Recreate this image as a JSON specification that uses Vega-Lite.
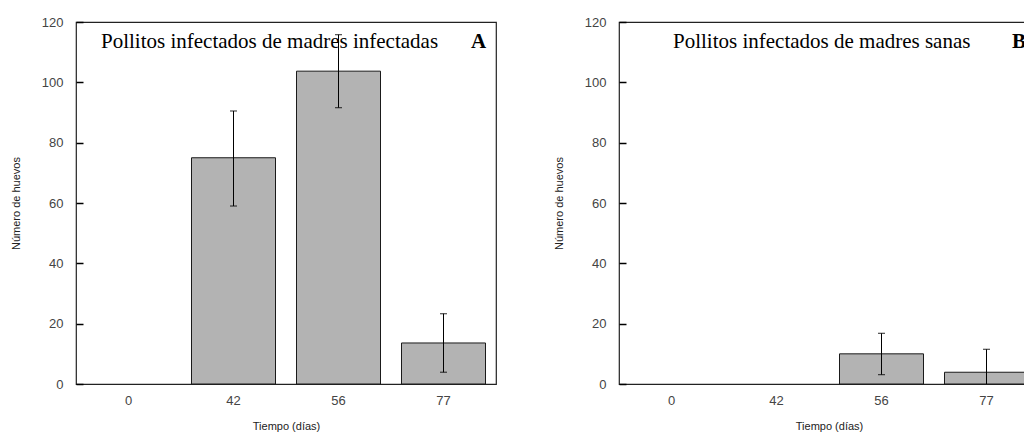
{
  "$schema": "https://vega.github.io/schema/vega-lite/v6.json",
  "padding": {"left": 9, "top": 15, "right": 0, "bottom": 0},
  "background": "white",
  "datasets": {
    "bars": [
      {"panel": "A", "day": 0, "value": 0, "lo": null, "hi": null},
      {"panel": "A", "day": 42, "value": 75, "lo": 59, "hi": 90.5},
      {"panel": "A", "day": 56, "value": 103.7, "lo": 91.6, "hi": 115.8},
      {"panel": "A", "day": 77, "value": 13.6, "lo": 3.9, "hi": 23.3},
      {"panel": "B", "day": 0, "value": 0, "lo": null, "hi": null},
      {"panel": "B", "day": 42, "value": 0, "lo": null, "hi": null},
      {"panel": "B", "day": 56, "value": 10, "lo": 3.1, "hi": 16.8},
      {"panel": "B", "day": 77, "value": 3.9, "lo": -3.7, "hi": 11.5}
    ],
    "notes": [
      {"panel": "A", "title": "Pollitos infectados de madres infectadas", "letter": "A"},
      {"panel": "B", "title": "Pollitos infectados de madres sanas", "letter": "B"}
    ]
  },
  "spacing": 55,
  "hconcat": [
    {
      "width": 420,
      "height": 362,
      "layer": [
        {
          "data": {"name": "bars"},
          "transform": [{"filter": "datum.panel === 'A' && datum.value > 0"}],
          "mark": {"type": "bar", "fill": "#b3b3b3", "stroke": "#1a1a1a", "strokeWidth": 1},
          "encoding": {
            "x": {"field": "day", "type": "ordinal", "scale": {"domain": [0, 42, 56, 77], "paddingInner": 0.2, "paddingOuter": 0.1}, "title": "Tiempo (días)"},
            "y": {"field": "value", "type": "quantitative", "scale": {"domain": [0, 120], "nice": false}, "title": "Número de huevos", "axis": {"values": [0, 20, 40, 60, 80, 100, 120], "ticks": true, "tickSize": 7, "tickColor": "#000", "tickWidth": 1.5, "offset": -7, "zindex": 1}}
          }
        },
        {
          "data": {"name": "bars"},
          "transform": [{"filter": "datum.panel === 'A' && datum.lo !== null"}],
          "mark": {"type": "rule", "color": "#000", "strokeWidth": 1, "clip": true},
          "encoding": {
            "x": {"field": "day", "type": "ordinal"},
            "y": {"field": "lo", "type": "quantitative"},
            "y2": {"field": "hi"}
          }
        },
        {
          "data": {"name": "bars"},
          "transform": [{"filter": "datum.panel === 'A' && datum.lo !== null"}],
          "mark": {"type": "tick", "color": "#000", "size": 7, "thickness": 1.2, "clip": true},
          "encoding": {
            "x": {"field": "day", "type": "ordinal"},
            "y": {"field": "lo", "type": "quantitative"}
          }
        },
        {
          "data": {"name": "bars"},
          "transform": [{"filter": "datum.panel === 'A' && datum.lo !== null"}],
          "mark": {"type": "tick", "color": "#000", "size": 7, "thickness": 1.2, "clip": true},
          "encoding": {
            "x": {"field": "day", "type": "ordinal"},
            "y": {"field": "hi", "type": "quantitative"}
          }
        },
        {
          "data": {"name": "notes"},
          "transform": [{"filter": "datum.panel === 'A'"}],
          "mark": {"type": "text", "font": "Liberation Serif", "fontSize": 21, "align": "left", "baseline": "alphabetic", "dx": -27.5, "color": "#000"},
          "encoding": {
            "x": {"datum": 0, "type": "ordinal"},
            "y": {"datum": 111.5, "type": "quantitative"},
            "text": {"field": "title"}
          }
        },
        {
          "data": {"name": "notes"},
          "transform": [{"filter": "datum.panel === 'A'"}],
          "mark": {"type": "text", "font": "Liberation Serif", "fontSize": 21, "fontWeight": "bold", "align": "left", "baseline": "alphabetic", "dx": 27.5, "color": "#000"},
          "encoding": {
            "x": {"datum": 77, "type": "ordinal"},
            "y": {"datum": 111.5, "type": "quantitative"},
            "text": {"field": "letter"}
          }
        }
      ]
    },
    {
      "width": 420,
      "height": 362,
      "layer": [
        {
          "data": {"name": "bars"},
          "transform": [{"filter": "datum.panel === 'B' && datum.value > 0"}],
          "mark": {"type": "bar", "fill": "#b3b3b3", "stroke": "#1a1a1a", "strokeWidth": 1},
          "encoding": {
            "x": {"field": "day", "type": "ordinal", "scale": {"domain": [0, 42, 56, 77], "paddingInner": 0.2, "paddingOuter": 0.1}, "title": "Tiempo (días)"},
            "y": {"field": "value", "type": "quantitative", "scale": {"domain": [0, 120], "nice": false}, "title": "Número de huevos", "axis": {"values": [0, 20, 40, 60, 80, 100, 120], "ticks": true, "tickSize": 7, "tickColor": "#000", "tickWidth": 1.5, "offset": -7, "zindex": 1}}
          }
        },
        {
          "data": {"name": "bars"},
          "transform": [{"filter": "datum.panel === 'B' && datum.lo !== null"}],
          "mark": {"type": "rule", "color": "#000", "strokeWidth": 1, "clip": true},
          "encoding": {
            "x": {"field": "day", "type": "ordinal"},
            "y": {"field": "lo", "type": "quantitative"},
            "y2": {"field": "hi"}
          }
        },
        {
          "data": {"name": "bars"},
          "transform": [{"filter": "datum.panel === 'B' && datum.lo !== null"}],
          "mark": {"type": "tick", "color": "#000", "size": 7, "thickness": 1.2, "clip": true},
          "encoding": {
            "x": {"field": "day", "type": "ordinal"},
            "y": {"field": "lo", "type": "quantitative"}
          }
        },
        {
          "data": {"name": "bars"},
          "transform": [{"filter": "datum.panel === 'B' && datum.lo !== null"}],
          "mark": {"type": "tick", "color": "#000", "size": 7, "thickness": 1.2, "clip": true},
          "encoding": {
            "x": {"field": "day", "type": "ordinal"},
            "y": {"field": "hi", "type": "quantitative"}
          }
        },
        {
          "data": {"name": "notes"},
          "transform": [{"filter": "datum.panel === 'B'"}],
          "mark": {"type": "text", "font": "Liberation Serif", "fontSize": 21, "align": "left", "baseline": "alphabetic", "dx": 1.5, "color": "#000"},
          "encoding": {
            "x": {"datum": 0, "type": "ordinal"},
            "y": {"datum": 111.5, "type": "quantitative"},
            "text": {"field": "title"}
          }
        },
        {
          "data": {"name": "notes"},
          "transform": [{"filter": "datum.panel === 'B'"}],
          "mark": {"type": "text", "font": "Liberation Serif", "fontSize": 21, "fontWeight": "bold", "align": "left", "baseline": "alphabetic", "dx": 25.5, "color": "#000"},
          "encoding": {
            "x": {"datum": 77, "type": "ordinal"},
            "y": {"datum": 111.5, "type": "quantitative"},
            "text": {"field": "letter"}
          }
        }
      ]
    }
  ],
  "config": {
    "view": {"stroke": "#222", "strokeWidth": 1.2},
    "font": "Liberation Sans",
    "axis": {"grid": false, "domain": false, "labelColor": "#444", "titleColor": "#222", "titleFontWeight": "normal", "titleFont": "Liberation Sans"},
    "axisX": {"ticks": false, "labelAngle": 0, "labelFontSize": 13, "labelPadding": 10, "titleFontSize": 11, "titlePadding": 13},
    "axisY": {"labelFontSize": 13, "labelPadding": 13, "titleFontSize": 11, "titlePadding": 20}
  }
}
